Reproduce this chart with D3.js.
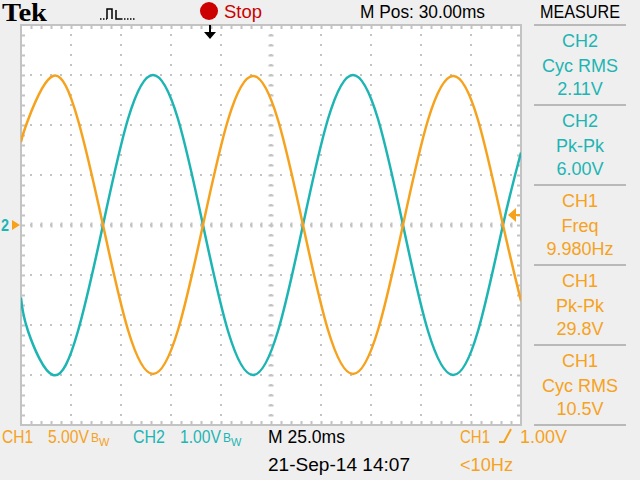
<!DOCTYPE html>
<html><head><meta charset="utf-8">
<script src="https://cdn.jsdelivr.net/npm/d3@7"></script>
<style>
body{margin:0;background:#efefef;}
svg{display:block}
text{font-family:"Liberation Sans",Arial,sans-serif;font-size:18px;}
</style>
</head><body>
<svg id="c" width="640" height="480"></svg>
<script>
const timeMs   = [0, 3.5, 16, 28.5, 41, 53.5, 66, 78.5, 91, 103.5, 116, 128.5, 141, 153.5, 166, 178.5, 191, 203.5, 216, 228.5, 241, 250];
const ch1Volts = [8.3, 10.5, 14.9, 10.5, 0, -10.5, -14.9, -10.5, 0, 10.5, 14.9, 10.5, 0, -10.5, -14.9, -10.5, 0, 10.5, 14.9, 10.5, 0, -7.6];
const ch2Volts = [-1.45, -2.12, -3.0, -2.12, 0, 2.12, 3.0, 2.12, 0, -2.12, -3.0, -2.12, 0, 2.12, 3.0, 2.12, 0, -2.12, -3.0, -2.12, 0, 1.45];
const measureChannels = ["CH2", "CH2", "CH1", "CH1", "CH1"];
const measureNames    = ["Cyc RMS", "Pk-Pk", "Freq", "Pk-Pk", "Cyc RMS"];
const measureValues   = ["2.11V", "6.00V", "9.980Hz", "29.8V", "10.5V"];
const ch1Scale = "5.00V", ch2Scale = "1.00V", timebase = "M 25.0ms";
const horizPos = "M Pos: 30.00ms", dateStamp = "21-Sep-14 14:07";
const triggerLevel = 1.00, triggerText = "1.00V", triggerFreq = "<10Hz";

const ORANGE = "#f6a21d", TEAL = "#1db5b3", GRID = "#c3c3c3";
const svg = d3.select("#c");

const x  = d3.scaleLinear([0, 250], [21, 521]);
const y1 = d3.scaleLinear([-20, 20], [425, 25]);
const y2 = d3.scaleLinear([-4, 4], [425, 25]);

function label(xx, yy, txt, color, len){
  const t = svg.append("text").attr("x", xx).attr("y", yy).attr("fill", color).text(txt);
  if (len) t.attr("textLength", len).attr("lengthAdjust", "spacingAndGlyphs");
  return t;
}

// plot area
svg.append("rect").attr("x", 0).attr("y", 0).attr("width", 640).attr("height", 480).attr("fill", "#efefef");
svg.append("rect").attr("x", 21).attr("y", 25).attr("width", 500).attr("height", 400).attr("fill", "#fff");

// dotted division lines
const divX = d3.range(25, 250, 25), divY = d3.range(-15, 20, 5);
svg.append("g").selectAll("line").data(divX).join("line")
  .attr("x1", d => x(d)).attr("x2", d => x(d)).attr("y1", 25).attr("y2", 425)
  .attr("stroke", GRID).attr("stroke-width", 2).attr("stroke-dasharray", "2 8").attr("stroke-dashoffset", 1);
svg.append("g").selectAll("line").data(divY).join("line")
  .attr("y1", d => y1(d)).attr("y2", d => y1(d)).attr("x1", 21).attr("x2", 521)
  .attr("stroke", GRID).attr("stroke-width", 2).attr("stroke-dasharray", "2 8").attr("stroke-dashoffset", 1);

// border and center ticks via axes
const minorX = d3.range(5, 250, 5), minorY = d3.range(-19, 20, 1);
function styleAxis(g){ g.select(".domain").remove(); g.selectAll("line").attr("stroke", GRID).attr("stroke-width", 2); g.selectAll("text").remove(); }
svg.append("g").attr("transform", "translate(0,25)").call(d3.axisBottom(x).tickValues(minorX).tickSize(4).tickFormat("")).call(styleAxis);
svg.append("g").attr("transform", "translate(0,425)").call(d3.axisTop(x).tickValues(minorX).tickSize(4).tickFormat("")).call(styleAxis);
svg.append("g").attr("transform", "translate(21,0)").call(d3.axisRight(y1).tickValues(minorY).tickSize(4).tickFormat("")).call(styleAxis);
svg.append("g").attr("transform", "translate(521,0)").call(d3.axisLeft(y1).tickValues(minorY).tickSize(4).tickFormat("")).call(styleAxis);
svg.append("g").attr("transform", "translate(0,222.5)").call(d3.axisBottom(x).tickValues(minorX).tickSize(5).tickFormat("")).call(styleAxis);
svg.append("g").attr("transform", "translate(268.5,0)").call(d3.axisRight(y1).tickValues(minorY).tickSize(5).tickFormat("")).call(styleAxis);
svg.append("rect").attr("x", 21).attr("y", 25).attr("width", 500).attr("height", 400)
  .attr("fill", "none").attr("stroke", GRID).attr("stroke-width", 2);

// traces
svg.append("clipPath").attr("id", "pc").append("rect").attr("x", 21).attr("y", 25).attr("width", 500).attr("height", 400);
const pts1 = timeMs.map((t, i) => ({t, v: ch1Volts[i]}));
const pts2 = timeMs.map((t, i) => ({t, v: ch2Volts[i]}));
svg.append("path").datum(pts2).attr("clip-path", "url(#pc)")
  .attr("d", d3.line().x(d => x(d.t)).y(d => y2(d.v)).curve(d3.curveNatural))
  .attr("fill", "none").attr("stroke", TEAL).attr("stroke-width", 2.5);
svg.append("path").datum(pts1).attr("clip-path", "url(#pc)")
  .attr("d", d3.line().x(d => x(d.t)).y(d => y1(d.v)).curve(d3.curveNatural))
  .attr("fill", "none").attr("stroke", ORANGE).attr("stroke-width", 2.5);

// ground markers (left)
svg.append("path").attr("d", `M12,${y1(0)-5} L20,${y1(0)} L12,${y1(0)+5} Z`).attr("fill", ORANGE);
svg.append("text").attr("x", 1).attr("y", y1(0) + 6).attr("fill", TEAL)
  .attr("textLength", 8).attr("lengthAdjust", "spacingAndGlyphs")
  .style("font-size", "16px").style("font-weight", "bold").text("2");
// trigger level marker (right)
const ty = y1(triggerLevel);
svg.append("path").attr("d", `M508,${ty} L516,${ty-7} L516,${ty+7} Z`).attr("fill", ORANGE);
svg.append("line").attr("x1", 514).attr("x2", 520).attr("y1", ty).attr("y2", ty).attr("stroke", ORANGE).attr("stroke-width", 2);
// trigger position marker (top)
svg.append("line").attr("x1", 210).attr("x2", 210).attr("y1", 25).attr("y2", 34).attr("stroke", "#000").attr("stroke-width", 2);
svg.append("path").attr("d", "M204,32 L216,32 L210,39 Z").attr("fill", "#000");

// top bar
svg.append("text").attr("x", 2).attr("y", 21).style("font-family", "'Liberation Serif','Times New Roman',serif")
  .style("font-weight", "bold").style("font-size", "25px").attr("fill", "#000")
  .attr("textLength", 45).attr("lengthAdjust", "spacingAndGlyphs").text("Tek");
svg.append("path").attr("d", "M107,19 V9 H112 V19 M116,10 V19 H121").attr("fill", "none").attr("stroke", "#000").attr("stroke-width", 1.5);
svg.append("path").attr("d", "M121,19 H136 M100,19 H107").attr("stroke", "#000").attr("stroke-width", 1.5).attr("stroke-dasharray", "1.5 1.5");
svg.append("circle").attr("cx", 209).attr("cy", 11).attr("r", 9).attr("fill", "#cc0000");
label(224, 18, "Stop", "#cc0000", 38);
label(360, 18, horizPos, "#000", 125);
label(540, 18, "MEASURE", "#000", 80);

// measure panel
const sepY = d3.range(0, 6).map(i => 25 + i * 80);
svg.append("g").selectAll("line").data(sepY).join("line")
  .attr("x1", 534).attr("x2", 626).attr("y1", d => d).attr("y2", d => d)
  .attr("stroke", "#b9b9b9").attr("stroke-width", 2);
const mg = svg.append("g").selectAll("g").data(measureChannels).join("g")
  .attr("transform", (d, i) => `translate(580,${sepY[i]})`)
  .attr("fill", d => d === "CH1" ? ORANGE : TEAL).attr("text-anchor", "middle");
mg.append("text").attr("y", 22).text(d => d);
mg.append("text").attr("y", 47).text((d, i) => measureNames[i]);
mg.append("text").attr("y", 70).text((d, i) => measureValues[i]);

// bottom bar
function scaleLabel(xx, txt, color){
  const t = svg.append("text").attr("x", xx).attr("y", 443).attr("fill", color);
  t.append("tspan").attr("textLength", 41).attr("lengthAdjust", "spacingAndGlyphs").text(txt);
  t.append("tspan").attr("dx", 2).attr("dy", -1).style("font-size", "12px").text("B");
  t.append("tspan").attr("dy", 4).style("font-size", "11px").text("W");
}
label(2, 443, "CH1", ORANGE, 31);
scaleLabel(48, ch1Scale, ORANGE);
label(133, 443, "CH2", TEAL, 32);
scaleLabel(180, ch2Scale, TEAL);
label(268, 443, timebase, "#000", 77);
label(268, 471, dateStamp, "#000", 142);
label(460, 443, "CH1", ORANGE, 30);
svg.append("path").attr("d", "M499,442 H504 L511,429").attr("fill", "none").attr("stroke", ORANGE).attr("stroke-width", 2);
label(520, 443, triggerText, ORANGE, 47);
label(460, 471, triggerFreq, ORANGE, 53);
</script>
</body></html>
